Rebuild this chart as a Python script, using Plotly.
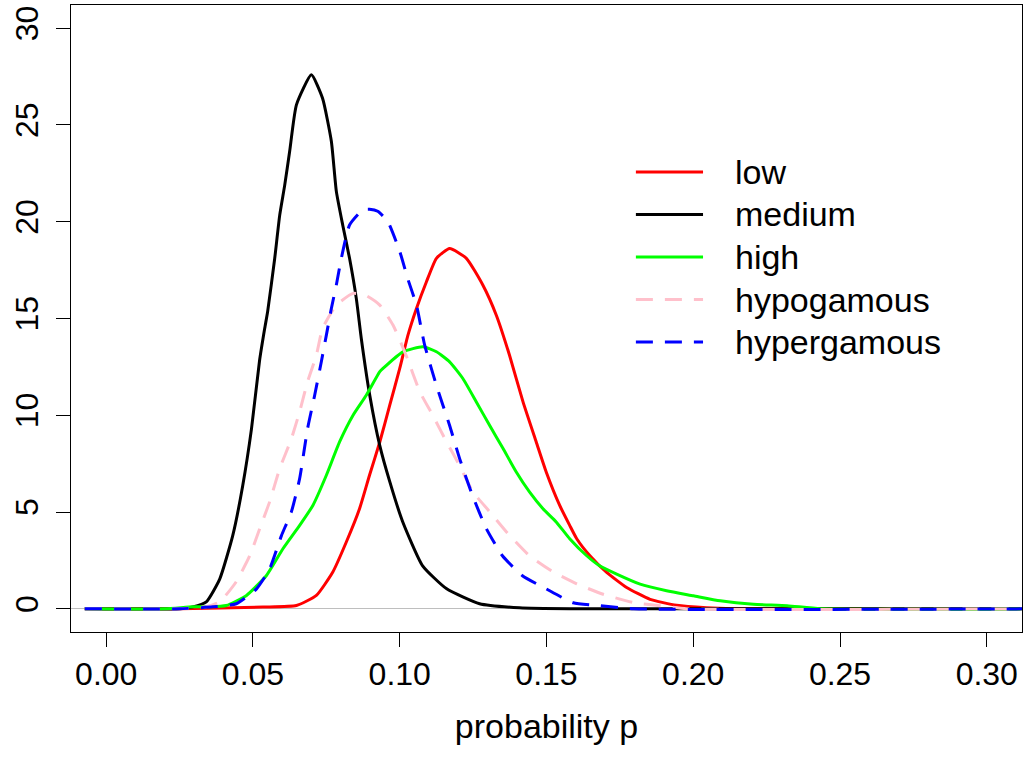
import plotly.graph_objects as go

# density curves (x = probability p, y = density)
low_x = [-0.0073, 0.025, 0.0534, 0.0648, 0.0716, 0.0772, 0.0818, 0.0863, 0.0897, 0.0932,
         0.0966, 0.1000, 0.1028, 0.1057, 0.1091, 0.1125, 0.117, 0.1227, 0.1283, 0.1329,
         0.1374, 0.142, 0.1465, 0.1499, 0.1545, 0.1579, 0.1603, 0.1648, 0.1705, 0.1773,
         0.1853, 0.1943, 0.2045, 0.2137, 0.32]
low_y = [0, 0, 0.09, 0.17, 0.69, 1.90, 3.45, 5.17, 6.90, 8.62,
         10.52, 12.42, 14.14, 15.52, 16.90, 18.11, 18.62, 18.11, 16.73, 15.17,
         13.10, 10.69, 8.62, 7.07, 5.34, 4.31, 3.62, 2.74, 1.88, 1.10,
         0.49, 0.18, 0.05, 0, 0]

medium_x = [-0.0073, 0.025, 0.0295, 0.0341, 0.0387, 0.0431, 0.0465, 0.0495, 0.0522, 0.054,
            0.055, 0.0574, 0.0591, 0.0608, 0.0625, 0.0648, 0.0699, 0.0737, 0.0767, 0.0784,
            0.0806, 0.0829, 0.0852, 0.0869, 0.0898, 0.0932, 0.0966, 0.1010, 0.1078, 0.1160,
            0.1272, 0.1408, 0.158, 0.32]
medium_y = [0, 0, 0.10, 0.36, 1.55, 3.78, 6.36, 9.31, 12.78, 14.49,
            15.36, 18.10, 20.33, 21.88, 23.64, 26.04, 27.59, 26.38, 24.16, 21.57,
            19.81, 18.11, 16.04, 13.97, 11.02, 8.43, 6.57, 4.50, 2.22, 1.03,
            0.26, 0.05, 0, 0]

high_x = [-0.0073, 0.02, 0.0295, 0.0353, 0.0409, 0.0478, 0.0546, 0.0602, 0.0659, 0.0704,
          0.075, 0.0795, 0.0841, 0.0886, 0.0932, 0.0943, 0.1011, 0.1079, 0.1125, 0.117,
          0.1215, 0.1261, 0.1306, 0.1352, 0.1397, 0.1442, 0.1488, 0.1533, 0.1579, 0.1637,
          0.1681, 0.1739, 0.1819, 0.1909, 0.2001, 0.2092, 0.2205, 0.232, 0.2434, 0.32]
high_y = [0, 0, 0.10, 0.10, 0.17, 0.69, 1.72, 3.10, 4.31, 5.34,
          6.90, 8.62, 10.00, 11.03, 12.25, 12.42, 13.28, 13.54, 13.28, 12.76,
          11.90, 10.69, 9.48, 8.28, 7.07, 6.04, 5.17, 4.49, 3.62, 2.74,
          2.22, 1.79, 1.27, 0.93, 0.67, 0.41, 0.23, 0.16, 0, 0]

hypo_x = [-0.0073, 0.025, 0.0341, 0.0387, 0.0443, 0.0489, 0.0523, 0.0557, 0.0591, 0.0631,
          0.0659, 0.0686, 0.0716, 0.0737, 0.0784, 0.0841, 0.0886, 0.0932, 0.0977, 0.1022,
          0.1068, 0.1113, 0.1159, 0.1204, 0.1249, 0.1306, 0.1363, 0.1442, 0.1522, 0.1603,
          0.1693, 0.1796, 0.1887, 0.1977, 0.32]
hypo_y = [0, 0, 0.10, 0.36, 1.40, 2.74, 4.14, 5.54, 7.24, 8.79,
          10.19, 11.74, 13.10, 14.49, 15.69, 16.30, 16.18, 15.69, 14.66, 13.09,
          11.23, 9.98, 8.64, 7.40, 6.05, 5.02, 3.98, 2.74, 1.91, 1.29,
          0.75, 0.32, 0.16, 0, 0]

hyper_x = [-0.0073, 0.025, 0.0363, 0.0443, 0.0512, 0.0557, 0.0597, 0.0631, 0.0659, 0.0686,
           0.071, 0.0733, 0.075, 0.0767, 0.0784, 0.0801, 0.0829, 0.0874, 0.0897, 0.0925,
           0.0959, 0.1000, 0.1027, 0.1057, 0.1085, 0.1125, 0.117, 0.1204, 0.1248, 0.1295,
           0.1350, 0.1418, 0.1499, 0.1591, 0.1681, 0.1797, 0.32]
hyper_y = [0, 0, 0.10, 0.26, 1.03, 2.07, 3.78, 5.02, 6.73, 9.31,
           11.02, 12.78, 14.14, 15.52, 16.73, 18.11, 19.83, 20.61, 20.64, 20.54,
           20.02, 18.47, 17.07, 15.69, 13.62, 11.54, 9.47, 7.76, 5.85, 4.14,
           2.74, 1.71, 1.03, 0.31, 0.16, 0, 0]

x_ticks = [0.00, 0.05, 0.10, 0.15, 0.20, 0.25, 0.30]
x_labels = ['0.00', '0.05', '0.10', '0.15', '0.20', '0.25', '0.30']
y_ticks = [0, 5, 10, 15, 20, 25, 30]

DASH = '17px,12px'
series = [
    ('low', low_x, low_y, 'red', 'solid'),
    ('medium', medium_x, medium_y, 'black', 'solid'),
    ('high', high_x, high_y, '#00ff00', 'solid'),
    ('hypogamous', hypo_x, hypo_y, 'pink', DASH),
    ('hypergamous', hyper_x, hyper_y, 'blue', DASH),
]

FAM = 'Liberation Sans, Arial, sans-serif'
tick_font = dict(family=FAM, size=32, color='black')
big_font = dict(family=FAM, size=34, color='black')

fig = go.Figure()
for name, xs, ys, col, dash in series:
    fig.add_trace(go.Scatter(x=xs, y=ys, mode='lines', name=name, showlegend=False,
                             line=dict(color=col, width=3, dash=dash,
                                       shape='spline', smoothing=0.5)))

# R-style legend (no box): line sample + label, drawn in paper coordinates
shapes = []
annotations = []
row0, row_step = 0.7337, 0.0678
for i, (name, xs, ys, col, dash) in enumerate(series):
    yy = row0 - i * row_step
    shapes.append(dict(type='line', xref='paper', yref='paper',
                       x0=0.594, x1=0.6646, y0=yy, y1=yy,
                       line=dict(color=col, width=3, dash=dash)))
    annotations.append(dict(xref='paper', yref='paper', x=0.696, y=yy,
                            xanchor='left', yanchor='middle', showarrow=False,
                            text=name, font=big_font))

fig.update_layout(
    width=1024, height=757,
    margin=dict(l=71, r=2, t=5, b=125),
    paper_bgcolor='white', plot_bgcolor='white',
    font=tick_font,
    showlegend=False,
    shapes=shapes,
    annotations=annotations,
)
fig.update_xaxes(range=[-0.012, 0.312], tickvals=x_ticks, ticktext=x_labels,
                 ticks='outside', ticklen=14, tickcolor='black', automargin=False,
                 showline=True, linecolor='black', linewidth=1, mirror=True,
                 showgrid=False, zeroline=False,
                 title=dict(text='probability p', font=big_font, standoff=22),
                 tickfont=tick_font)
fig.update_yaxes(range=[-1.2, 31.2], tickvals=y_ticks, automargin=False,
                 ticks='outside', ticklen=14, tickcolor='black', tickangle=-90,
                 ticklabelstandoff=5,
                 showline=True, linecolor='black', linewidth=1, mirror=True,
                 showgrid=False, zeroline=True, zerolinecolor='#bebebe', zerolinewidth=1,
                 tickfont=tick_font)

# drop the browser's default body margin so the figure sits at the page corner
fig.write_html("out.html", config={'displayModeBar': False},
               post_script="document.body.style.margin='0';")
